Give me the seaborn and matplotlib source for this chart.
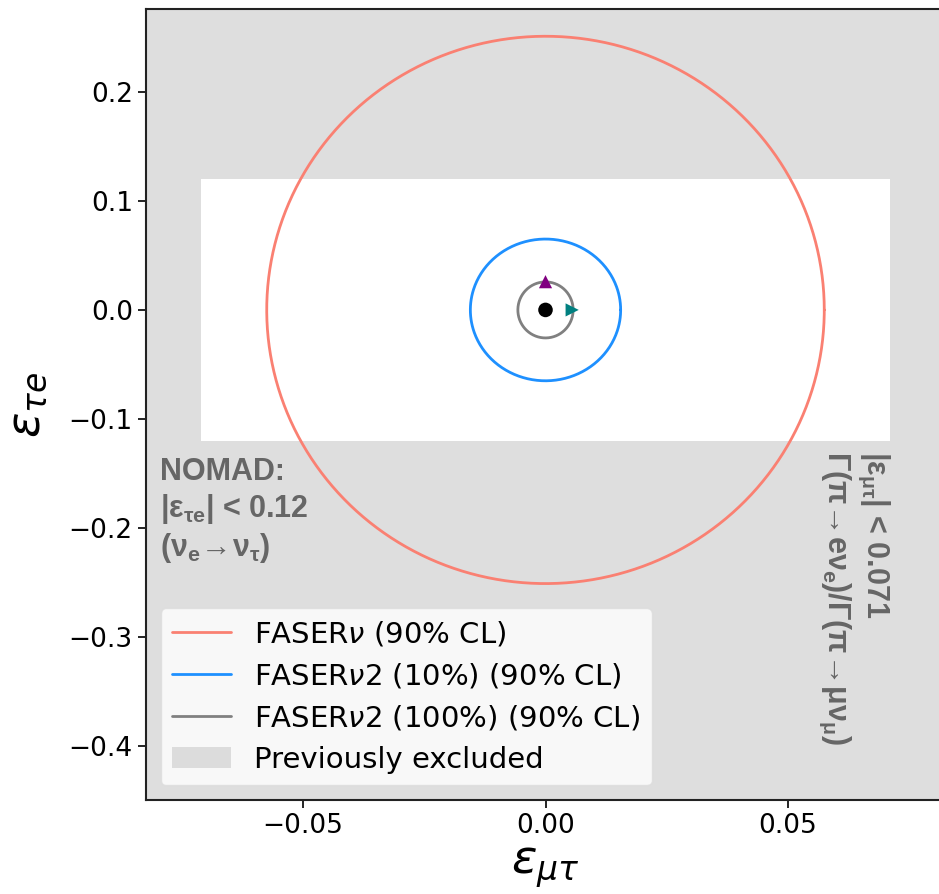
import numpy as np
import pandas as pd
import matplotlib
matplotlib.use("Agg")
import matplotlib.pyplot as plt
from matplotlib.patches import Rectangle, Patch
from matplotlib.lines import Line2D
import seaborn as sns

# ---- data ----
labels = ["FASER$\\nu$ (90% CL)", "FASER$\\nu$2 (10%) (90% CL)", "FASER$\\nu$2 (100%) (90% CL)"]
colors = ["salmon", "dodgerblue", "gray"]
radius_mt = [0.0575, 0.0155, 0.0057]   # eps_mu_tau half-widths
radius_te = [0.251, 0.065, 0.0257]     # eps_tau_e half-heights
nomad_bound = 0.12
pion_bound = 0.071
best_x, best_y = [0.0], [0.0]
tri_up_x, tri_up_y = [0.0], [0.0259]
tri_right_x, tri_right_y = [0.0055], [0.0]
xticks = [-0.05, 0.0, 0.05]
yticks = [0.2, 0.1, 0.0, -0.1, -0.2, -0.3, -0.4]
xlim = (-0.0824, 0.0824)
ylim = (-0.4495, 0.276)

sns.set_style("ticks")
plt.rcParams["font.family"] = ["DejaVu Sans"]
plt.rcParams["text.color"] = "black"
plt.rcParams["mathtext.fontset"] = "dejavusans"
plt.rcParams["mathtext.rm"] = "Liberation Sans:bold"
plt.rcParams["mathtext.it"] = "Liberation Sans:bold"
plt.rcParams["mathtext.bf"] = "Liberation Sans:bold"

fig = plt.figure(figsize=(9.39, 8.94), dpi=100)
ax = fig.add_axes([146 / 939, 94 / 894, 799 / 939, 791 / 894])
ax.set_facecolor("#dedede")
ax.add_patch(Rectangle((-pion_bound, -nomad_bound), 2 * pion_bound, 2 * nomad_bound,
                       facecolor="white", edgecolor="none", zorder=0.5))

t = np.linspace(0, 2 * np.pi, 400)
for lab, c, rx, ry in zip(labels, colors, radius_mt, radius_te):
    df = pd.DataFrame({"x": rx * np.cos(t), "y": ry * np.sin(t)})
    sns.lineplot(data=df, x="x", y="y", sort=False, estimator=None, color=c, lw=2,
                 ax=ax, zorder=3)

sns.scatterplot(x=best_x, y=best_y, color="black", s=110, marker="o", edgecolor="none", ax=ax, zorder=5)
sns.scatterplot(x=tri_up_x, y=tri_up_y, color="purple", s=90, marker="^", edgecolor="none", ax=ax, zorder=5)
sns.scatterplot(x=tri_right_x, y=tri_right_y, color="teal", s=90, marker=">", edgecolor="none", ax=ax, zorder=5)

ax.set_xlim(*xlim)
ax.set_ylim(*ylim)
ax.set_xticks(xticks)
ax.set_xticklabels(["\u22120.05", "0.00", "0.05"])
ax.set_yticks(yticks)
ax.set_yticklabels([f"{v:.1f}".replace("-", "\u2212") for v in yticks])
ax.tick_params(labelsize=19, length=6, width=1.2, color="black", labelcolor="black",
               direction="out")
for s in ax.spines.values():
    s.set_color("#222222")
    s.set_linewidth(1.5)

ax.set_xlabel("$\\varepsilon_{\\mu\\tau}$", fontsize=34, math_fontfamily="dejavusans",
              labelpad=4, color="black")
ax.set_ylabel("$\\varepsilon_{\\tau e}$", fontsize=34, math_fontfamily="dejavusans",
              labelpad=14, color="black")

ax.text(-0.0795, -0.135,
        "NOMAD:\n$|\\varepsilon_{\\tau e}|$ < 0.12\n$(\\nu_e\\!\\rightarrow\\!\\nu_\\tau)$",
        fontsize=22, color="#666666", fontweight="bold", family="Liberation Sans",
        math_fontfamily="custom", va="top", ha="left", linespacing=1.2)
ax.text(0.0637, -0.129,
        "$|\\varepsilon_{\\mu\\tau}|$ < 0.071\n"
        "$\\Gamma(\\pi\\!\\rightarrow\\! e\\nu_e)/\\Gamma(\\pi\\!\\rightarrow\\!\\mu\\nu_\\mu)$",
        fontsize=22, color="#666666", fontweight="bold", family="Liberation Sans",
        math_fontfamily="custom", rotation=-90, va="center", ha="left",
        multialignment="left", linespacing=1.15, rotation_mode="anchor")

handles = [Line2D([], [], color=c, lw=2) for c in colors] + \
          [Patch(facecolor="#dcdcdc", edgecolor="none")]
leg = ax.legend(handles, labels + ["Previously excluded"], loc="lower left",
                fontsize=21, frameon=True, fancybox=True, framealpha=0.8, facecolor="white",
                edgecolor="#dddddd", borderaxespad=0.5, handlelength=2.0,
                labelspacing=0.45, handletextpad=0.8)
for txt in leg.get_texts():
    txt.set_color("black")

fig.savefig("out.png", dpi=100)
